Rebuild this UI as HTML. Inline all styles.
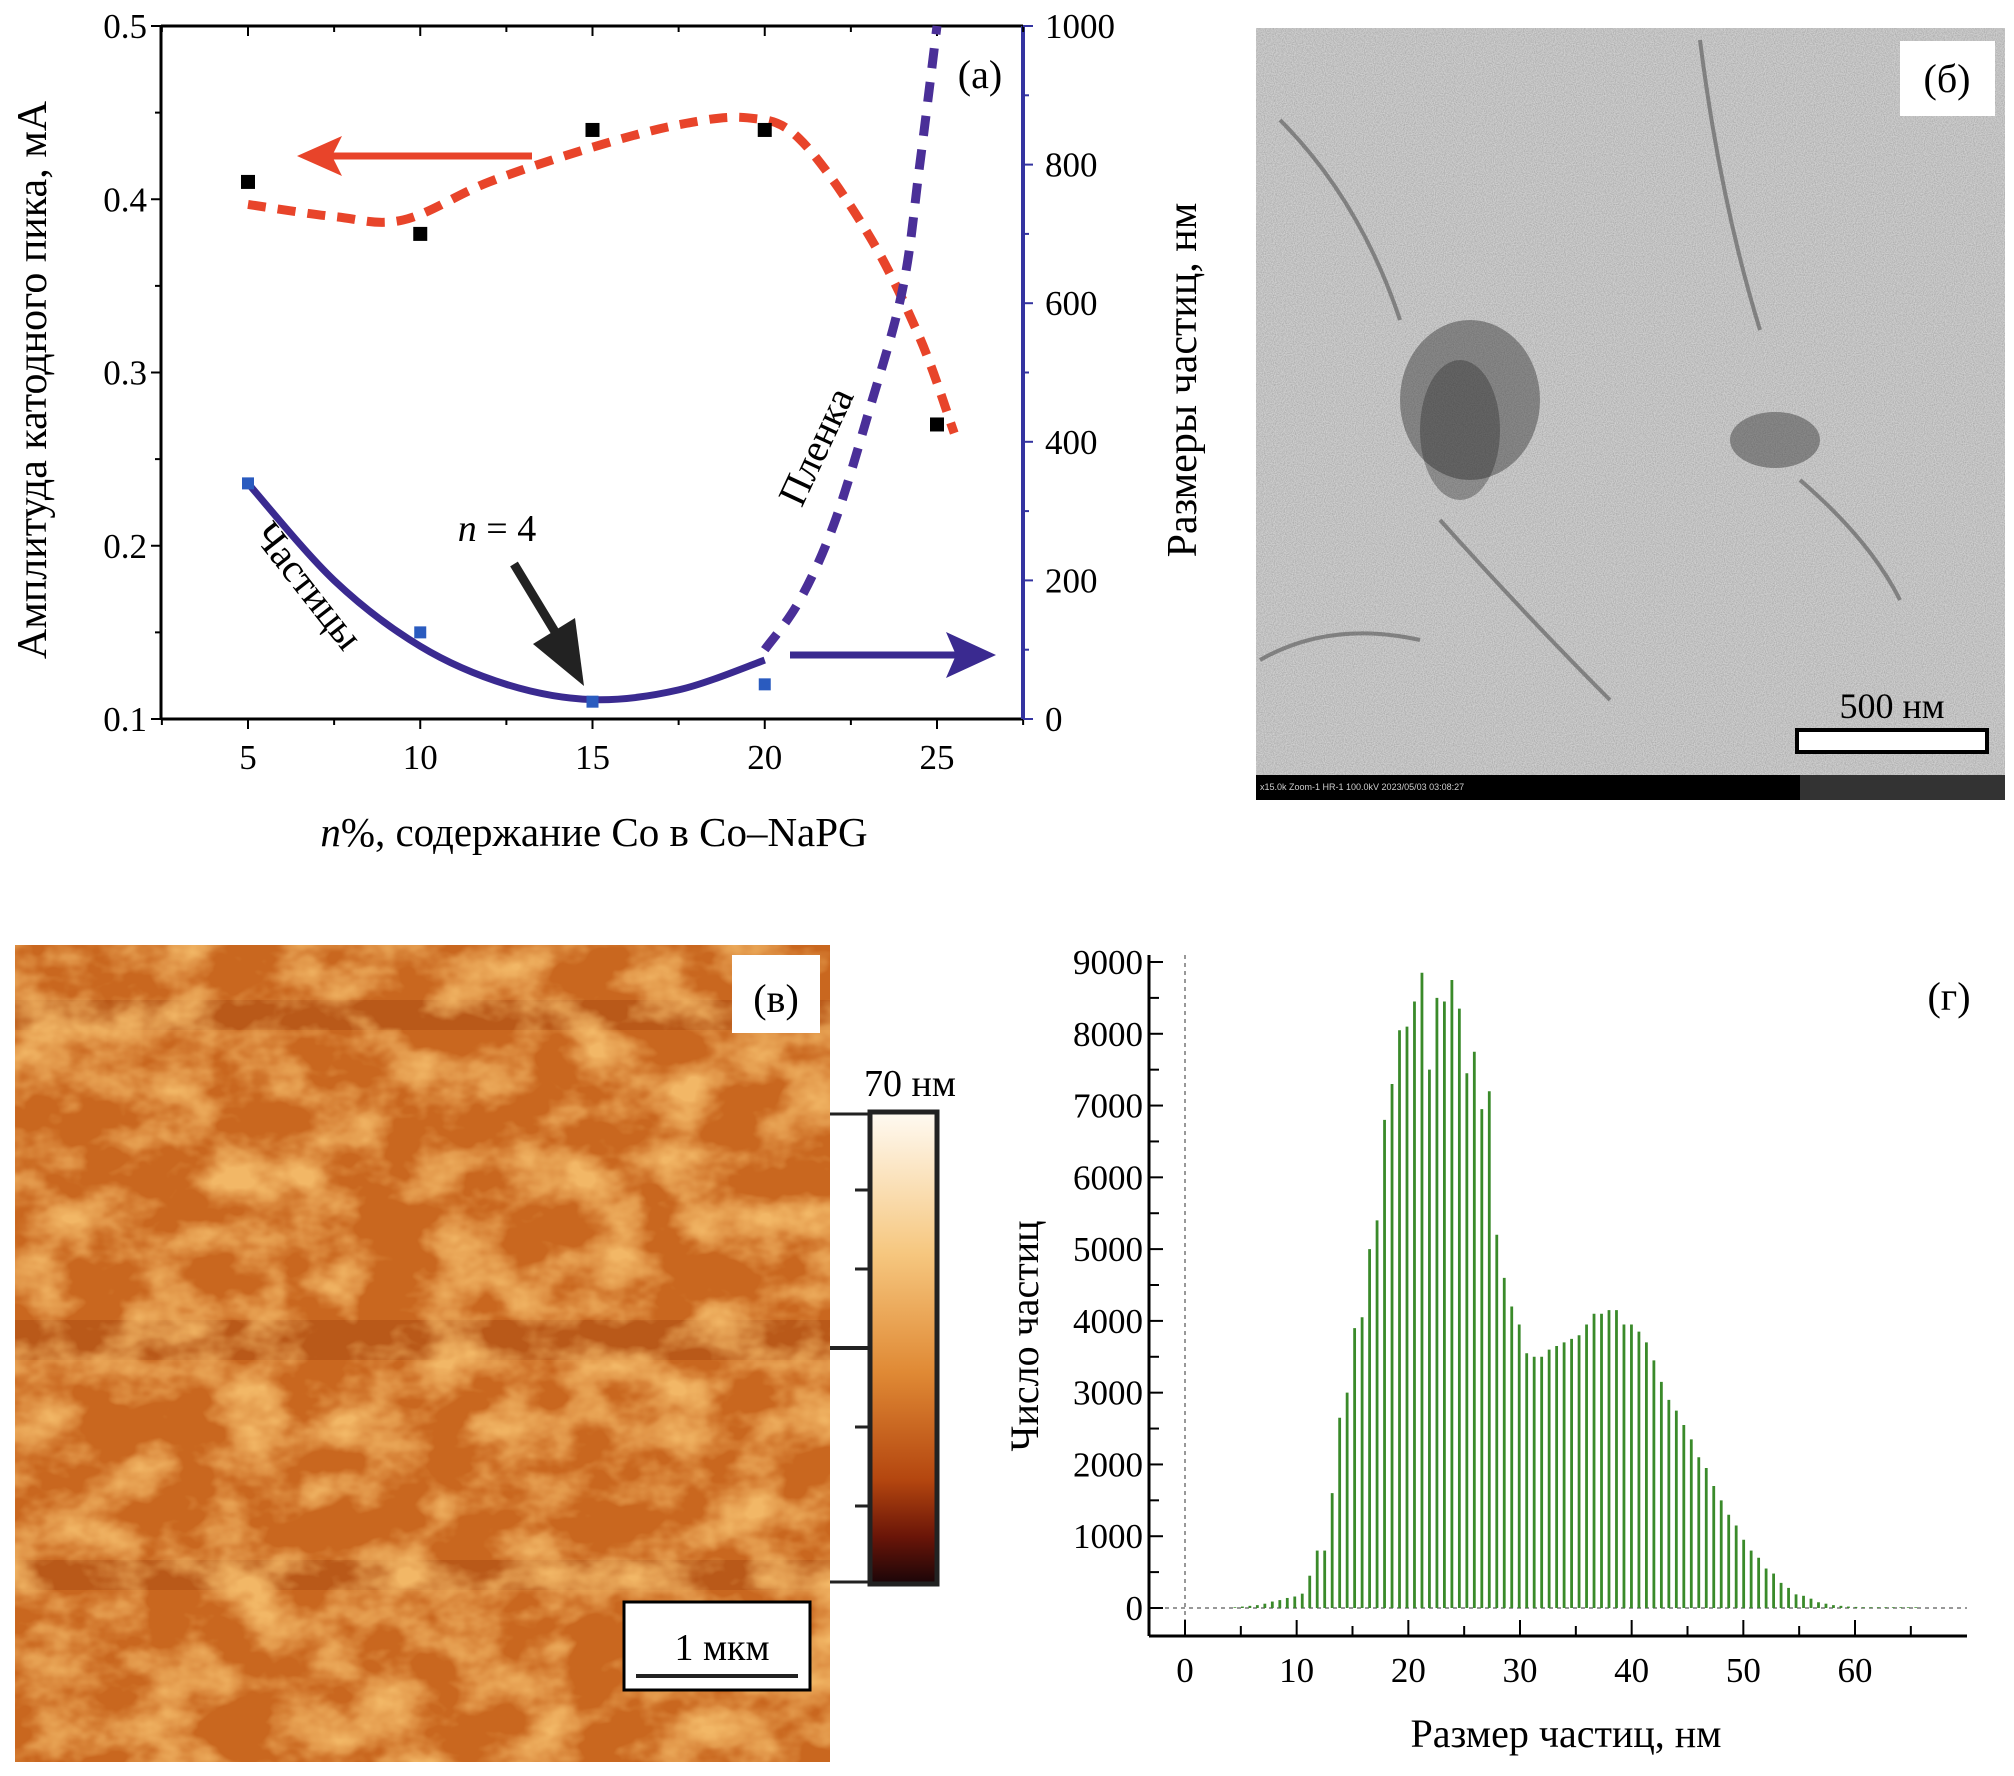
<!DOCTYPE html>
<html><head><meta charset="utf-8"><style>
html,body{margin:0;padding:0;background:#fff;}
svg{display:block;font-family:"Liberation Serif",serif;}
</style></head><body>
<svg id="fig" width="2014" height="1776" viewBox="0 0 2014 1776" xmlns="http://www.w3.org/2000/svg">
<defs>
<filter id="temNoise" x="0" y="0" width="100%" height="100%">
<feTurbulence type="fractalNoise" baseFrequency="0.9" numOctaves="1" seed="3" result="n"/>
<feColorMatrix type="matrix" values="0.8 0 0 0 0.25  0.8 0 0 0 0.25  0.8 0 0 0 0.25  0 0 0 0 1"/>
</filter>
<filter id="afm" x="0" y="0" width="100%" height="100%">
<feTurbulence type="fractalNoise" baseFrequency="0.014 0.02" numOctaves="4" seed="7" result="t"/>
<feComponentTransfer in="t" result="m"><feFuncA type="table" tableValues="0 0 0 0.6 1 1"/></feComponentTransfer>
<feFlood flood-color="#f2b766" result="c"/>
<feComposite in="c" in2="m" operator="in"/>
</filter>
<linearGradient id="cbar" x1="0" y1="0" x2="0" y2="1">
<stop offset="0" stop-color="#fffaf2"/><stop offset="0.3" stop-color="#f6c77f"/><stop offset="0.55" stop-color="#e08a35"/><stop offset="0.78" stop-color="#b4460f"/><stop offset="0.9" stop-color="#6a1508"/><stop offset="1" stop-color="#1a0508"/>
</linearGradient>
</defs>

<g id="pa"></g>

<g>
<rect x="1256" y="28" width="749" height="772" fill="#a8a8a8"/>
<rect x="1256" y="28" width="749" height="747" filter="url(#temNoise)" opacity="0.6"/>
<ellipse cx="1470" cy="400" rx="70" ry="80" fill="#333" opacity="0.45"/>
<ellipse cx="1460" cy="430" rx="40" ry="70" fill="#222" opacity="0.35"/>
<ellipse cx="1775" cy="440" rx="45" ry="28" fill="#333" opacity="0.45"/>
<path d="M1280 120 Q1360 200 1400 320 M1700 40 Q1720 200 1760 330 M1440 520 Q1530 620 1610 700 M1800 480 Q1870 540 1900 600 M1260 660 Q1330 620 1420 640" stroke="#555" stroke-width="4" fill="none" opacity="0.6"/>
<rect x="1256" y="775" width="749" height="25" fill="#000"/>
<rect x="1800" y="775" width="205" height="25" fill="#333"/>
<text x="1260" y="790" font-size="9" fill="#ccc" font-family="Liberation Sans,sans-serif">x15.0k Zoom-1 HR-1 100.0kV 2023/05/03 03:08:27</text>
<rect x="1900" y="41" width="95" height="75" fill="#fff"/>
<text x="1947" y="92" font-size="40" text-anchor="middle">(б)</text>
<text x="1892" y="718" font-size="36" text-anchor="middle">500 нм</text>
<rect x="1797" y="730" width="190" height="22" fill="#fff" stroke="#000" stroke-width="4"/>
</g>

<g>
<rect x="15" y="945" width="815" height="817" fill="#c9671f"/>
<rect x="15" y="1000" width="815" height="30" fill="#a94c14" opacity="0.5"/>
<rect x="15" y="1320" width="815" height="40" fill="#a94c14" opacity="0.5"/>
<rect x="15" y="1560" width="815" height="30" fill="#a94c14" opacity="0.5"/>
<rect x="15" y="945" width="815" height="817" filter="url(#afm)"/>
<rect x="732" y="955" width="88" height="78" fill="#fff"/>
<text x="776" y="1012" font-size="40" text-anchor="middle">(в)</text>
<rect x="624" y="1602" width="186" height="88" fill="#fff" stroke="#000" stroke-width="3"/>
<text x="722" y="1660" font-size="38" text-anchor="middle">1 мкм</text>
<line x1="636" y1="1676" x2="798" y2="1676" stroke="#222" stroke-width="4"/>
<text x="910" y="1096" font-size="38" text-anchor="middle">70 нм</text>
<rect x="870" y="1112" width="67" height="472" fill="url(#cbar)" stroke="#222" stroke-width="5"/>
<g stroke="#222" stroke-width="3">
<line x1="830" y1="1114" x2="868" y2="1114"/><line x1="855" y1="1190" x2="868" y2="1190"/><line x1="855" y1="1269" x2="868" y2="1269"/><line x1="830" y1="1348" x2="868" y2="1348" stroke-width="4"/><line x1="855" y1="1427" x2="868" y2="1427"/><line x1="855" y1="1506" x2="868" y2="1506"/><line x1="830" y1="1582" x2="868" y2="1582"/>
</g>
</g>

<g id="pg"></g>
</svg>
<script>
// ---------- Panel a data ----------
const aX = [5, 10, 15, 20, 25];
const aCurrent = [0.41, 0.38, 0.44, 0.44, 0.27];
const aSizeX = [5, 10, 15, 20];
const aSize = [340, 125, 25, 50];
const redCurveX = [5, 7.5, 9.5, 12, 15, 17.5, 19.5, 21, 23, 24.5, 25.5];
const redCurveY = [0.397, 0.39, 0.388, 0.41, 0.43, 0.443, 0.447, 0.435, 0.38, 0.32, 0.265];
const solidCurveX = [5, 7.5, 10, 12.5, 15, 17.5, 20];
const solidCurveY = [340, 200, 105, 50, 28, 42, 85];
const filmCurveX = [20, 21, 22, 23, 24, 24.5, 25];
const filmCurveY = [100, 170, 280, 440, 620, 800, 1000];
const aXTicks = [5, 10, 15, 20, 25];
const aLeftTicks = ["0.1", "0.2", "0.3", "0.4", "0.5"];
const aRightTicks = ["0", "200", "400", "600", "800", "1000"];

// ---------- Panel г data ----------
const histStart = 4.47, histBin = 0.67;
const histCounts = [10,20,30,40,60,90,110,140,160,200,450,800,800,1600,2650,3000,3900,4050,5000,5400,6800,7300,8050,8100,8450,8850,7500,8500,8450,8750,8350,7450,7750,6950,7200,5200,4600,4200,3950,3550,3500,3500,3600,3650,3700,3750,3800,3950,4100,4100,4150,4150,3950,3950,3850,3700,3450,3150,2900,2750,2550,2350,2100,1950,1700,1500,1300,1150,950,800,700,550,480,350,280,190,170,130,80,60,40,30,20,15,10,10,10,10,10,10,10,10];
const gXTicks = ["0","10","20","30","40","50","60"];
const gYTicks = ["0","1000","2000","3000","4000","5000","6000","7000","8000","9000"];

const NS = "http://www.w3.org/2000/svg";
function mk(parent, tag, attrs, text){const e=document.createElementNS(NS,tag);for(const k in attrs)e.setAttribute(k,attrs[k]);if(text!==undefined)e.textContent=text;parent.appendChild(e);return e;}
function smooth(pts){let d="M"+pts[0][0]+","+pts[0][1];for(let i=0;i<pts.length-1;i++){const p0=pts[Math.max(0,i-1)],p1=pts[i],p2=pts[i+1],p3=pts[Math.min(pts.length-1,i+2)];const c1=[p1[0]+(p2[0]-p0[0])/6,p1[1]+(p2[1]-p0[1])/6],c2=[p2[0]-(p3[0]-p1[0])/6,p2[1]-(p3[1]-p1[1])/6];d+=" C"+c1+" "+c2+" "+p2;}return d;}
function italicN(t, rest){mk(t,'tspan',{'font-style':'italic'},'n');mk(t,'tspan',{},rest);}

const pa=document.getElementById('pa');
const AL=161, AR=1023, AT=26, AB=719;
const ax=v=>248+(v-5)*(937-248)/20;
const ayL=v=>AB-(v-0.1)/(0.4)*(AB-AT);
const ayR=v=>AB-v/1000*(AB-AT);
let e;
e=mk(pa,'line',{x1:AL,y1:AT,x2:AL,y2:AB,stroke:'#000','stroke-width':3});


e=mk(pa,'line',{x1:AL,y1:AB,x2:AR,y2:AB,stroke:'#000','stroke-width':3});


e=mk(pa,'line',{x1:AL,y1:AT,x2:AR,y2:AT,stroke:'#000','stroke-width':3});


e=mk(pa,'line',{x1:AR,y1:AT,x2:AR,y2:AB,stroke:'#3333a0','stroke-width':4});


for(let v=2.5; v<=27.5; v+=2.5){const x=ax(v);const big=(v%5===0);mk(pa,'line',{x1:x,y1:AB,x2:x,y2:AB+(big?10:6),stroke:'#000','stroke-width':2});mk(pa,'line',{x1:x,y1:AT,x2:x,y2:AT+(big?10:6),stroke:'#000','stroke-width':2});}
aXTicks.forEach(v=>{e=mk(pa,'text',{x:ax(v),y:AB+50,'font-size':35,'text-anchor':'middle'},String(v));

});
aLeftTicks.forEach(t=>{const y=ayL(parseFloat(t));mk(pa,'line',{x1:AL,y1:y,x2:AL-10,y2:y,stroke:'#000','stroke-width':2});
e=mk(pa,'text',{x:AL-14,y:y+12,'font-size':35,'text-anchor':'end'},t);

});
for(let v=0.15;v<0.5;v+=0.1){const y=ayL(v);mk(pa,'line',{x1:AL,y1:y,x2:AL-6,y2:y,stroke:'#000','stroke-width':2});}
aRightTicks.forEach(t=>{const y=ayR(parseFloat(t));mk(pa,'line',{x1:AR,y1:y,x2:AR+10,y2:y,stroke:'#3333a0','stroke-width':2});
e=mk(pa,'text',{x:AR+22,y:y+12,'font-size':35},t);

});
for(let v=100;v<1000;v+=200){const y=ayR(v);mk(pa,'line',{x1:AR,y1:y,x2:AR+6,y2:y,stroke:'#3333a0','stroke-width':2});}
e=mk(pa,'path',{d:smooth(redCurveX.map((x,i)=>[ax(x),ayL(redCurveY[i])])),fill:'none',stroke:'#e8442a','stroke-width':9,'stroke-dasharray':'18 12'});


e=mk(pa,'path',{d:smooth(solidCurveX.map((x,i)=>[ax(x),ayR(solidCurveY[i])])),fill:'none',stroke:'#3a2a90','stroke-width':7});


e=mk(pa,'path',{d:smooth(filmCurveX.map((x,i)=>[ax(x),ayR(filmCurveY[i])])),fill:'none',stroke:'#4a2f98','stroke-width':9,'stroke-dasharray':'20 14'});


aX.forEach((x,i)=>{e=mk(pa,'rect',{x:ax(x)-7,y:ayL(aCurrent[i])-7,width:14,height:14,fill:'#000'});

});
aSizeX.forEach((x,i)=>{e=mk(pa,'rect',{x:ax(x)-6,y:ayR(aSize[i])-6,width:12,height:12,fill:'#2a5bbf'});

});
e=mk(pa,'g',{});


mk(e,'line',{x1:532,y1:156,x2:330,y2:156,stroke:'#e8442a','stroke-width':7});
mk(e,'path',{d:'M297,156 L342,136 L332,156 L342,176 Z',fill:'#e8442a'});
e=mk(pa,'g',{});


mk(e,'line',{x1:790,y1:655,x2:960,y2:655,stroke:'#3a2a90','stroke-width':7});
mk(e,'path',{d:'M996,655 L946,632 L956,655 L946,678 Z',fill:'#3a2a90'});
e=mk(pa,'g',{});


mk(e,'line',{x1:514,y1:564,x2:560,y2:640,stroke:'#222','stroke-width':9});
mk(e,'path',{d:'M584,686 L533,644 L575,618 Z',fill:'#222'});
e=mk(pa,'text',{x:497,y:541,'font-size':38,'text-anchor':'middle'});


italicN(e,' = 4');
e=mk(pa,'text',{x:0,y:0,'font-size':40,'text-anchor':'middle',transform:'translate(298,594) rotate(52)'},'Частицы');


e=mk(pa,'text',{x:0,y:0,'font-size':40,'text-anchor':'middle',transform:'translate(828,452) rotate(-65)'},'Пленка');


e=mk(pa,'text',{x:980,y:88,'font-size':40,'text-anchor':'middle'},'(a)');


e=mk(pa,'text',{x:0,y:0,'font-size':42,'text-anchor':'middle',transform:'translate(46,380) rotate(-90)'},'Амплитуда катодного пика, мА');


e=mk(pa,'text',{x:0,y:0,'font-size':42,'text-anchor':'middle',transform:'translate(1196,380) rotate(-90)'},'Размеры частиц, нм');


e=mk(pa,'text',{x:594,y:846,'font-size':41,'text-anchor':'middle'});


italicN(e,'%, содержание Co в Co–NaPG');

const pg=document.getElementById('pg');
const GL=1149, GR=1967, GB=1636;
const gx=v=>1185+v*(1855-1185)/60;
const gy=v=>1608-v*(1608-962)/9000;
e=mk(pg,'line',{x1:GL,y1:955,x2:GL,y2:GB,stroke:'#000','stroke-width':3});


e=mk(pg,'line',{x1:GL,y1:GB,x2:GR,y2:GB,stroke:'#000','stroke-width':3});


mk(pg,'line',{x1:gx(0),y1:955,x2:gx(0),y2:GB,stroke:'#777','stroke-width':1.5,'stroke-dasharray':'4 4'});
mk(pg,'line',{x1:GL,y1:gy(0),x2:GR,y2:gy(0),stroke:'#777','stroke-width':1.5,'stroke-dasharray':'4 4'});
histCounts.forEach((c,i)=>{const x=gx(histStart+i*histBin);e=mk(pg,'line',{x1:x,y1:gy(0),x2:x,y2:gy(c),stroke:'#3a8a2a','stroke-width':2.8});

});
gYTicks.forEach(t=>{const y=gy(parseFloat(t));mk(pg,'line',{x1:GL,y1:y,x2:GL+14,y2:y,stroke:'#000','stroke-width':2});
e=mk(pg,'text',{x:GL-6,y:y+12,'font-size':35,'text-anchor':'end'},t);

});
for(let v=500;v<9000;v+=1000){const y=gy(v);mk(pg,'line',{x1:GL,y1:y,x2:GL+10,y2:y,stroke:'#000','stroke-width':2});}
gXTicks.forEach(t=>{const x=gx(parseFloat(t));mk(pg,'line',{x1:x,y1:GB,x2:x,y2:GB-16,stroke:'#000','stroke-width':2});
e=mk(pg,'text',{x:x,y:GB+46,'font-size':35,'text-anchor':'middle'},t);

});
for(let v=5;v<70;v+=10){const x=gx(v);mk(pg,'line',{x1:x,y1:GB,x2:x,y2:GB-10,stroke:'#000','stroke-width':2});}
e=mk(pg,'text',{x:0,y:0,'font-size':40,'text-anchor':'middle',transform:'translate(1038,1336) rotate(-90)'},'Число частиц');


e=mk(pg,'text',{x:1566,y:1747,'font-size':40,'text-anchor':'middle'},'Размер частиц, нм');


e=mk(pg,'text',{x:1949,y:1010,'font-size':40,'text-anchor':'middle'},'(г)');


</script>
</body></html>
